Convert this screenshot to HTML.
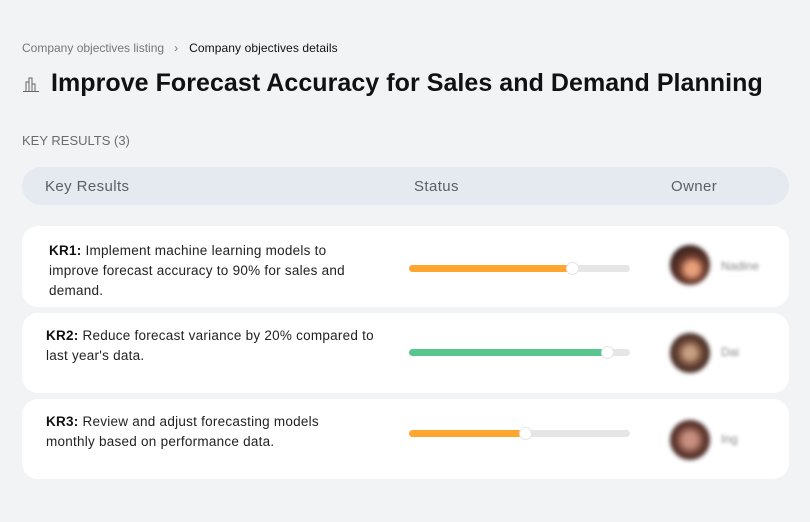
<!DOCTYPE html>
<html><head><meta charset="utf-8"><style>
*{margin:0;padding:0;box-sizing:border-box}
body{width:810px;height:522px;background:#f2f3f5;font-family:"Liberation Sans",sans-serif;position:relative;overflow:hidden;color:#111}
.a{position:absolute;white-space:nowrap}
.bc{top:41px;left:22px;font-size:12px;color:#777}
.bc b{font-weight:normal;color:#111;letter-spacing:0.1px}
.bc i{font-style:normal;display:inline-block;margin:0 11px 0 10px}
.title{top:69px;left:51px;font-size:25px;font-weight:bold;color:#111;letter-spacing:0.05px}
.kr{top:133px;left:22px;font-size:13px;color:#6b6b6b}
.hdr{position:absolute;left:22px;top:167px;width:767px;height:38px;background:#e5e9f0;border-radius:19px}
.ht{position:absolute;top:178px;font-size:15px;color:#5a5f66;letter-spacing:0.4px}
.card{position:absolute;left:22px;width:767px;background:#fff;border-radius:16px}
.txt{position:absolute;font-size:13.5px;line-height:20px;color:#222;white-space:nowrap;letter-spacing:0.25px}
.txt b{color:#111}
.track{position:absolute;left:409px;width:221px;height:7px;border-radius:4px;background:#e6e6e6}
.fill{position:absolute;left:0;top:0;height:7px;border-radius:4px}
.knob{position:absolute;top:-3px;width:13px;height:13px;border-radius:50%;background:#fff;border:1px solid #e4e4e4}
.av{position:absolute;left:670px;width:40px;height:40px;border-radius:50%;filter:blur(2px)}
.nm{position:absolute;left:721px;font-size:12px;color:#888;filter:blur(1.6px)}
</style></head><body>
<div class="a bc">Company objectives listing<i>›</i><b>Company objectives details</b></div>
<svg class="a" style="left:22px;top:75px" width="18" height="18" viewBox="0 0 18 18"><g fill="none" stroke="#666" stroke-width="1"><path d="M4 16V7h3v9M7 16V3h3v13M10 16V9h3v7"/><path d="M1 16.5h16"/></g></svg>
<div class="a title">Improve Forecast Accuracy for Sales and Demand Planning</div>
<div class="a kr">KEY RESULTS (3)</div>
<div class="hdr"></div>
<div class="ht" style="left:45px">Key Results</div>
<div class="ht" style="left:414px">Status</div>
<div class="ht" style="left:671px">Owner</div>

<div class="card" style="top:226px;height:81px"></div>
<div class="txt" style="left:49px;top:241px"><b>KR1:</b> Implement machine learning models to<br>improve forecast accuracy to 90% for sales and<br>demand.</div>
<div class="track" style="top:265px"><div class="fill" style="width:163px;background:#ffa630"></div><div class="knob" style="left:157px"></div></div>
<div class="av" style="top:245px;background:radial-gradient(circle at 55% 60%,#e9a07a 0 18%,#6a3a2c 40%,#2a1a18 75%)"></div>
<div class="nm" style="top:259px">Nadine</div>

<div class="card" style="top:313px;height:80px"></div>
<div class="txt" style="left:46px;top:326px"><b>KR2:</b> Reduce forecast variance by 20% compared to<br>last year's data.</div>
<div class="track" style="top:349px"><div class="fill" style="width:198px;background:#57c58e"></div><div class="knob" style="left:192px"></div></div>
<div class="av" style="top:333px;background:radial-gradient(circle at 50% 50%,#c8a080 0 18%,#6a4535 45%,#2e211c 80%)"></div>
<div class="nm" style="top:345px">Dai</div>

<div class="card" style="top:399px;height:80px"></div>
<div class="txt" style="left:46px;top:412px"><b>KR3:</b> Review and adjust forecasting models<br>monthly based on performance data.</div>
<div class="track" style="top:430px"><div class="fill" style="width:116px;background:#ffa630"></div><div class="knob" style="left:110px"></div></div>
<div class="av" style="top:420px;background:radial-gradient(circle at 50% 50%,#c79080 0 22%,#6b3d33 50%,#2f1f1c 80%)"></div>
<div class="nm" style="top:432px">Ing</div>
</body></html>
